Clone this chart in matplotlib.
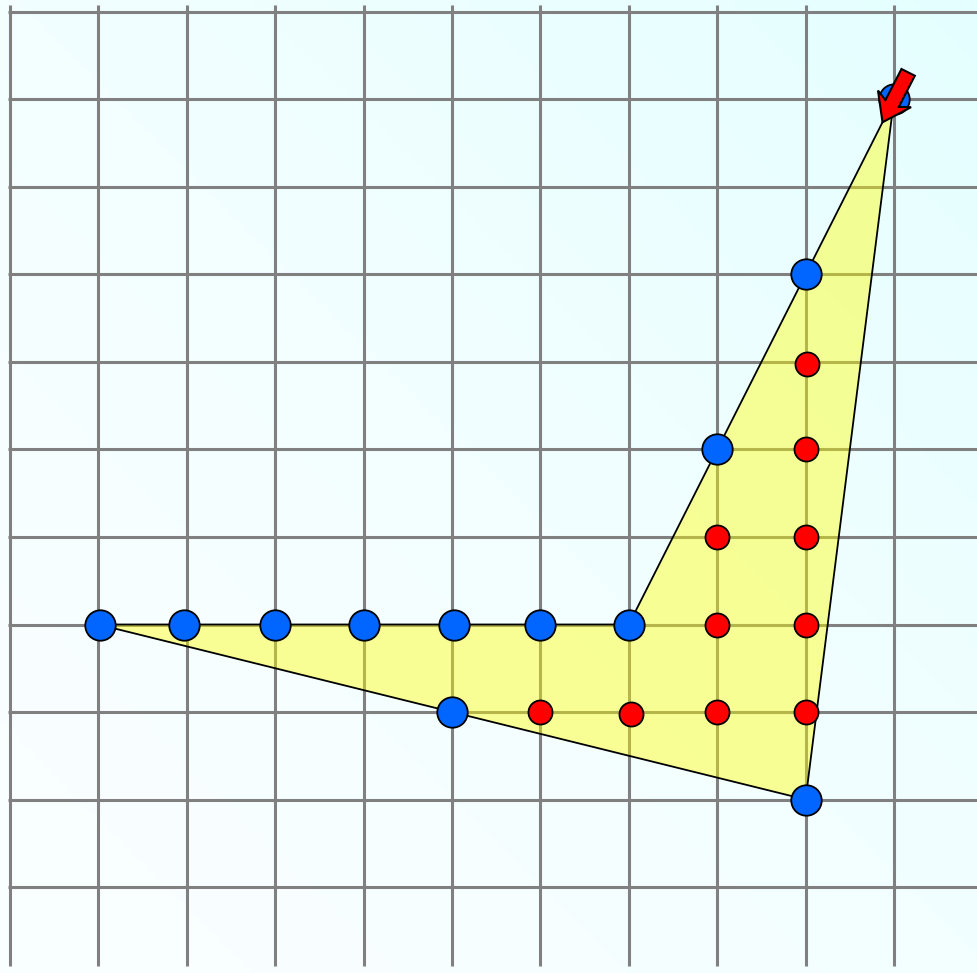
import numpy as np
import matplotlib
matplotlib.use("Agg")
import matplotlib.pyplot as plt
from matplotlib.patches import Polygon, FancyArrow

# grid
grid_x = list(range(0, 11))
grid_y = list(range(0, 11))

# polygon vertices (x, y with y counted downward)
poly_x = [1, 7, 10, 9]
poly_y = [7, 7, 1, 9]

# blue points
blue_x = [1.02, 1.97, 3, 4, 5.02, 6, 7, 5, 9, 8, 9, 10]
blue_y = [7, 7, 7, 7, 7, 7, 7, 8, 9, 5, 3, 1]

# red points
red_x = [9.02, 9, 8, 9, 8, 9, 6, 7.02, 8, 9]
red_y = [4.02, 5, 6, 6, 7, 7, 8, 8.02, 8, 8]

# arrow (tail -> tip)
arrow_tail = (10.16, 0.69)
arrow_tip = (9.87, 1.26)

W, H = 978, 973
fig = plt.figure(figsize=(W / 100, H / 100), dpi=100)
ax = fig.add_axes([0, 0, 1, 1])
x0, x1 = -10 / 88.4, (W - 10) / 88.4
y0, y1 = -12 / 87.5, (H - 12) / 87.5
ax.set_xlim(x0, x1)
ax.set_ylim(y1, y0)
ax.axis("off")

# background gradient (cyan toward top-right)
ny, nx = 200, 200
gx = np.linspace(0, 1, nx)
gy = np.linspace(0, 1, ny)
GX, GY = np.meshgrid(gx, gy)
d = np.clip((GX + (1 - GY)) / 2.0, 0, 1)  # 1 at top-right
t = d ** 1.5
c0 = np.array([250, 254, 255]) / 255.0
c1 = np.array([228, 255, 255]) / 255.0
img = c0[None, None, :] * (1 - t[..., None]) + c1[None, None, :] * t[..., None]
ax.imshow(img, extent=[x0, x1, y1, y0], origin="upper", aspect="auto", zorder=0)

gcol = "#808080"
glw = 2.2
for gxv in grid_x:
    ax.plot([gxv, gxv], [-0.08, 10.9], color=gcol, lw=glw, zorder=1, solid_capstyle="butt")
for gyv in grid_y:
    ax.plot([-0.02, x1 + 0.1], [gyv, gyv], color=gcol, lw=glw, zorder=1, solid_capstyle="butt")

verts = list(zip(poly_x, poly_y))
ax.add_patch(Polygon(verts, closed=True, facecolor=(1, 1, 0, 0.42), edgecolor="none", zorder=2))
ax.add_patch(Polygon(verts, closed=True, facecolor="none", edgecolor="black", lw=1.3, zorder=3))

ax.scatter(red_x, red_y, s=300, c="#ff0000", edgecolors="black", linewidths=1.3, zorder=4)
ax.scatter(blue_x, blue_y, s=480, c="#0066ff", edgecolors="black", linewidths=1.3, zorder=5)

dx = arrow_tip[0] - arrow_tail[0]
dy = arrow_tip[1] - arrow_tail[1]
ax.add_patch(FancyArrow(arrow_tail[0], arrow_tail[1], dx, dy, width=0.17, head_width=0.42,
                        head_length=0.30, overhang=0.2, length_includes_head=True,
                        facecolor="#ff0000", edgecolor="black", lw=1.5, zorder=6))

fig.savefig("out.png", dpi=100)
